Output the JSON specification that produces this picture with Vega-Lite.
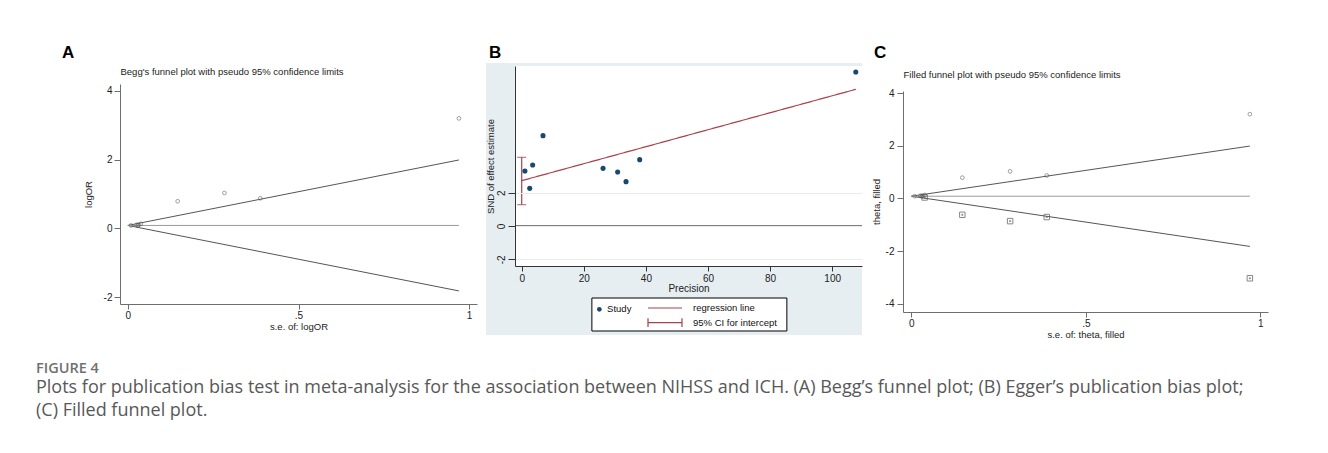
{
  "$schema": "https://vega.github.io/schema/vega-lite/v6.json",
  "background": "white",
  "padding": {"left": 36, "top": 43, "right": 5, "bottom": 5},
  "config": {
    "font": "Liberation Sans",
    "view": {"stroke": null},
    "axis": {"domainColor": "#6e6e6e", "tickColor": "#6e6e6e", "labelColor": "#222222", "titleColor": "#222222", "grid": false, "labelFont": "Liberation Sans", "titleFont": "Liberation Sans", "titleFontWeight": "normal", "labelFontSize": 10, "titleFontSize": 9.5},
    "legend": {"labelFont": "Liberation Sans", "labelFontSize": 9.5, "labelColor": "#111111", "padding": 0, "title": null},
    "title": {"font": "Liberation Sans"}
  },
  "title": {
    "text": "FIGURE 4",
    "subtitle": ["Plots for publication bias test in meta-analysis for the association between NIHSS and ICH. (A) Begg’s funnel plot; (B) Egger’s publication bias plot;", "(C) Filled funnel plot."],
    "orient": "bottom", "anchor": "start", "frame": "bounds", "dx": -26, "offset": 23,
    "font": "Open Sans", "fontSize": 14.5, "fontWeight": 600, "color": "#707070",
    "subtitleFont": "Open Sans", "subtitleFontSize": 18, "subtitleColor": "#585858", "subtitleLineHeight": 23, "subtitlePadding": 3
  },
  "resolve": {"scale": {"color": "independent", "stroke": "independent", "strokeDash": "independent"}, "legend": {"color": "independent", "stroke": "independent", "strokeDash": "independent"}},
  "datasets": {
    "begg": [
      {"se": 0.0093, "logOR": 0.086},
      {"se": 0.026, "logOR": 0.105},
      {"se": 0.030, "logOR": 0.079},
      {"se": 0.032, "logOR": 0.105},
      {"se": 0.038, "logOR": 0.132},
      {"se": 0.146, "logOR": 0.79},
      {"se": 0.283, "logOR": 1.03},
      {"se": 0.388, "logOR": 0.875},
      {"se": 0.97, "logOR": 3.2}
    ],
    "funnel": [
      {"se": 0, "val": 0.085, "kind": "upper limit"},
      {"se": 0.97, "val": 1.99, "kind": "upper limit"},
      {"se": 0, "val": 0.085, "kind": "lower limit"},
      {"se": 0.97, "val": -1.82, "kind": "lower limit"},
      {"se": 0, "val": 0.085, "kind": "pooled"},
      {"se": 0.97, "val": 0.085, "kind": "pooled"}
    ],
    "imputed": [
      {"se": 0.038, "theta": 0.038},
      {"se": 0.146, "theta": -0.62},
      {"se": 0.283, "theta": -0.86},
      {"se": 0.388, "theta": -0.705},
      {"se": 0.97, "theta": -3.03}
    ],
    "egger": [
      {"precision": 107.6, "snd": 9.24, "series": "Study"},
      {"precision": 1.03, "snd": 3.3, "series": "Study"},
      {"precision": 2.58, "snd": 2.26, "series": "Study"},
      {"precision": 3.53, "snd": 3.66, "series": "Study"},
      {"precision": 6.86, "snd": 5.42, "series": "Study"},
      {"precision": 26.2, "snd": 3.46, "series": "Study"},
      {"precision": 30.9, "snd": 3.24, "series": "Study"},
      {"precision": 33.6, "snd": 2.66, "series": "Study"},
      {"precision": 38.0, "snd": 3.98, "series": "Study"}
    ],
    "reg": [
      {"precision": 0, "snd": 2.72, "series": "regression line"},
      {"precision": 107.6, "snd": 8.2, "series": "regression line"}
    ],
    "ci": [
      {"precision": 0, "lo": 1.28, "hi": 4.12, "series": "95% CI for intercept"}
    ]
  },
  "spacing": 8,
  "hconcat": [
    {"spacing": 0, "vconcat": [
      {"width": 1, "height": 1, "data": {"values": []}, "mark": {"type": "point", "opacity": 0}},
      {
      "title": {"text": "A", "anchor": "start", "frame": "group", "dx": -58, "fontSize": 17, "fontWeight": "bold", "color": "#000000", "offset": 4},
      "width": 357,
      "height": 220,
      "resolve": {"axis": {"x": "independent"}},
      "layer": [
        {
          "data": {"name": "funnel"},
          "mark": {"type": "line", "strokeWidth": 1},
          "encoding": {
            "x": {"field": "se", "type": "quantitative", "scale": {"domain": [-0.023, 1.023], "nice": false, "zero": false},
                  "axis": {"orient": "top", "title": "Begg's funnel plot with pseudo 95% confidence limits", "labels": false, "ticks": false, "domain": false, "titleAnchor": "start", "titlePadding": 8, "titleFontSize": 9.5}},
            "y": {"field": "val", "type": "quantitative", "scale": {"domain": [-2.2, 4.2], "nice": false, "zero": false},
                  "axis": {"values": [-2, 0, 2, 4], "labelExpr": "datum.value < 0 ? '-' + abs(datum.value) : '' + datum.value", "title": "logOR", "tickSize": 6, "labelPadding": 2, "titlePadding": 10}},
            "detail": {"field": "kind"},
            "color": {"field": "kind", "type": "nominal", "scale": {"domain": ["upper limit", "lower limit", "pooled"], "range": ["#555555", "#555555", "#9a9a9a"]}, "legend": null}
          }
        },
        {
          "data": {"name": "begg"},
          "mark": {"type": "point", "shape": "circle", "filled": false, "size": 14, "strokeWidth": 0.8, "color": "#555555"},
          "encoding": {
            "x": {"field": "se", "type": "quantitative",
                  "axis": {"orient": "bottom", "values": [0, 0.5, 1], "labelExpr": "datum.value === 0.5 ? '.5' : '' + datum.value", "title": "s.e. of: logOR", "tickSize": 5, "labelPadding": 1, "titlePadding": 1}},
            "y": {"field": "logOR", "type": "quantitative"}
          }
        }
      ]
    }]},
    {"spacing": 0, "vconcat": [
      {"width": 1, "height": 1, "data": {"values": []}, "mark": {"type": "point", "opacity": 0}},
      {
      "title": {"text": "B", "anchor": "start", "frame": "group", "dx": -26, "fontSize": 17, "fontWeight": "bold", "color": "#000000", "offset": 1},
      "width": 347,
      "height": 200,
      "layer": [
        {
          "data": {"values": [{}]},
          "mark": {"type": "rect", "fill": "#e6eef1", "stroke": null},
          "encoding": {
            "x": {"datum": -11.5, "type": "quantitative", "scale": {"domain": [-2.16, 109.6], "nice": false, "zero": false},
                  "axis": {"values": [0, 20, 40, 60, 80, 100], "title": "Precision", "tickSize": 5, "labelPadding": 2, "titlePadding": 0, "titleFontSize": 10, "domainColor": "#333333", "tickColor": "#333333", "zindex": 1}},
            "x2": {"datum": 109.6},
            "y": {"datum": -6.54, "type": "quantitative", "scale": {"domain": [-2.4, 9.6], "nice": false, "zero": false},
                  "axis": {"values": [-2, 0, 2], "labelExpr": "datum.value < 0 ? '-' + abs(datum.value) : '' + datum.value", "labelAngle": -90, "title": "SND of effect estimate", "tickSize": 7, "labelPadding": 2, "titlePadding": 1, "grid": true, "gridColor": "#ebebeb", "domainColor": "#333333", "tickColor": "#333333", "zindex": 1}},
            "y2": {"datum": 9.78}
          }
        },
        {
          "data": {"values": [{}]},
          "mark": {"type": "rect", "fill": "#ffffff", "stroke": null},
          "encoding": {
            "x": {"datum": -2.16, "type": "quantitative"},
            "x2": {"datum": 109.6},
            "y": {"datum": -2.4, "type": "quantitative"},
            "y2": {"datum": 9.6}
          }
        },
        {
          "data": {"values": [{}]},
          "mark": {"type": "rect", "fill": "#ffffff", "stroke": "#000000", "strokeWidth": 1},
          "encoding": {
            "x": {"datum": 22.6, "type": "quantitative"},
            "x2": {"datum": 85.4},
            "y": {"datum": -6.3, "type": "quantitative"},
            "y2": {"datum": -4.32}
          }
        },
        {
          "data": {"values": [{}]},
          "mark": {"type": "rule", "color": "#000000", "strokeWidth": 1.2},
          "encoding": {"y": {"datum": 0, "type": "quantitative"}}
        },
        {
          "data": {"name": "reg"},
          "mark": {"type": "line", "strokeWidth": 1.2, "color": "#a8424c"},
          "encoding": {
            "x": {"field": "precision", "type": "quantitative"},
            "y": {"field": "snd", "type": "quantitative"},
            "strokeDash": {"field": "series", "type": "nominal", "scale": {"domain": ["regression line"], "range": [[1, 0]]},
              "legend": {"orient": "none", "legendX": 132, "legendY": 247, "symbolType": "stroke", "symbolSize": 1156, "symbolStrokeColor": "#a8424c", "symbolStrokeWidth": 1.2, "labelOffset": 10}}
          }
        },
        {
          "data": {"name": "ci"},
          "mark": {"type": "rule", "strokeWidth": 1.2},
          "encoding": {
            "x": {"field": "precision", "type": "quantitative"},
            "y": {"field": "lo", "type": "quantitative"},
            "y2": {"field": "hi"},
            "stroke": {"field": "series", "type": "nominal", "scale": {"domain": ["95% CI for intercept"], "range": ["#a8424c"]},
              "legend": {"orient": "none", "legendX": 132, "legendY": 261.7, "symbolType": "M-1,-0.26L-1,0.26M-1,0L1,0M1,-0.26L1,0.26", "symbolSize": 1156, "symbolStrokeWidth": 1.2, "labelOffset": 10}}
          }
        },
        {
          "data": {"name": "ci"},
          "mark": {"type": "tick", "orient": "horizontal", "size": 9, "thickness": 1.2, "color": "#a8424c"},
          "encoding": {
            "x": {"field": "precision", "type": "quantitative"},
            "y": {"field": "lo", "type": "quantitative"}
          }
        },
        {
          "data": {"name": "ci"},
          "mark": {"type": "tick", "orient": "horizontal", "size": 9, "thickness": 1.2, "color": "#a8424c"},
          "encoding": {
            "x": {"field": "precision", "type": "quantitative"},
            "y": {"field": "hi", "type": "quantitative"}
          }
        },
        {
          "data": {"name": "egger"},
          "mark": {"type": "point", "shape": "circle", "filled": true, "size": 26, "opacity": 1},
          "encoding": {
            "x": {"field": "precision", "type": "quantitative"},
            "y": {"field": "snd", "type": "quantitative"},
            "color": {"field": "series", "type": "nominal",
              "scale": {"domain": ["Study"], "range": ["#1a476f"]},
              "legend": {"orient": "none", "legendX": 79.6, "legendY": 261.6, "symbolType": "circle", "symbolSize": 22, "labelOffset": 3}}
          }
        }
      ]
    }]},
    {"spacing": 0, "vconcat": [
      {"width": 1, "height": 1, "data": {"values": []}, "mark": {"type": "point", "opacity": 0}},
      {
      "title": {"text": "C", "anchor": "start", "frame": "group", "dx": -29, "fontSize": 17, "fontWeight": "bold", "color": "#000000", "offset": 7},
      "width": 365,
      "height": 221,
      "resolve": {"axis": {"x": "independent"}},
      "layer": [
        {
          "data": {"name": "funnel"},
          "mark": {"type": "line", "strokeWidth": 1},
          "encoding": {
            "x": {"field": "se", "type": "quantitative", "scale": {"domain": [-0.024, 1.022], "nice": false, "zero": false},
                  "axis": {"orient": "top", "title": "Filled funnel plot with pseudo 95% confidence limits", "labels": false, "ticks": false, "domain": false, "titleAnchor": "start", "titlePadding": 12, "titleFontSize": 9.5}},
            "y": {"field": "val", "type": "quantitative", "scale": {"domain": [-4.31, 4.08], "nice": false, "zero": false},
                  "axis": {"values": [-4, -2, 0, 2, 4], "labelExpr": "datum.value < 0 ? '-' + abs(datum.value) : '' + datum.value", "title": "theta, filled", "tickSize": 6, "labelPadding": 3, "titlePadding": 4}},
            "detail": {"field": "kind"},
            "color": {"field": "kind", "type": "nominal", "scale": {"domain": ["upper limit", "lower limit", "pooled"], "range": ["#555555", "#555555", "#9a9a9a"]}, "legend": null}
          }
        },
        {
          "data": {"name": "begg"},
          "mark": {"type": "point", "shape": "circle", "filled": false, "size": 14, "strokeWidth": 0.8, "color": "#555555"},
          "encoding": {
            "x": {"field": "se", "type": "quantitative",
                  "axis": {"orient": "bottom", "values": [0, 0.5, 1], "labelExpr": "datum.value === 0.5 ? '.5' : '' + datum.value", "title": "s.e. of: theta, filled", "tickSize": 5, "labelPadding": 1, "titlePadding": 1}},
            "y": {"field": "logOR", "type": "quantitative"}
          }
        },
        {
          "data": {"name": "imputed"},
          "mark": {"type": "point", "shape": "square", "filled": false, "size": 30, "strokeWidth": 1, "color": "#555555"},
          "encoding": {
            "x": {"field": "se", "type": "quantitative", "axis": null},
            "y": {"field": "theta", "type": "quantitative"}
          }
        },
        {
          "data": {"name": "imputed"},
          "mark": {"type": "point", "shape": "circle", "filled": true, "size": 5, "color": "#666666"},
          "encoding": {
            "x": {"field": "se", "type": "quantitative", "axis": null},
            "y": {"field": "theta", "type": "quantitative"}
          }
        }
      ]
    }]}
  ]
}
